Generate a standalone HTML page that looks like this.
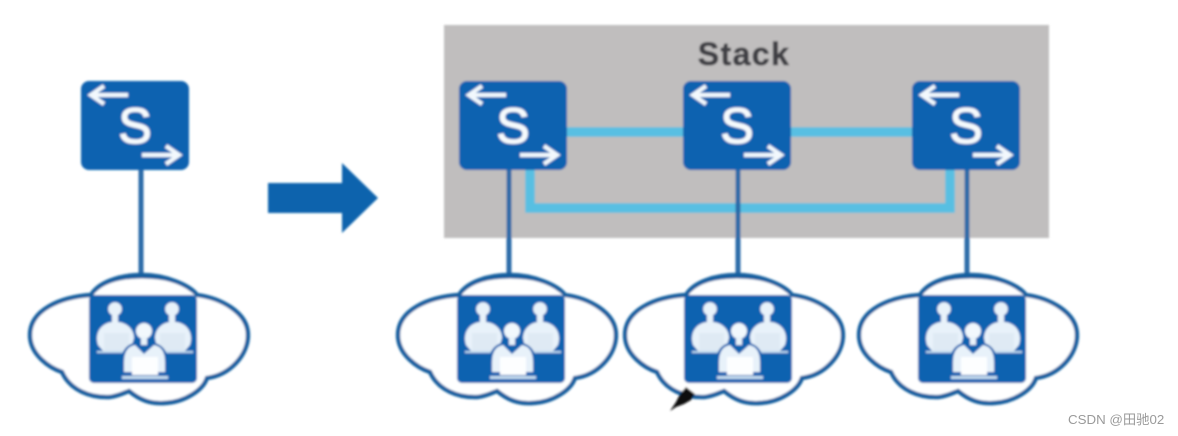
<!DOCTYPE html>
<html><head><meta charset="utf-8"><style>
html,body{margin:0;padding:0;background:#fff}
svg{display:block}
text{font-family:"Liberation Sans","Noto Sans CJK SC",sans-serif}
</style></head><body>
<svg width="1178" height="436" viewBox="0 0 1178 436" xmlns="http://www.w3.org/2000/svg">
<defs>
<filter id="b" x="-2%" y="-2%" width="104%" height="104%"><feGaussianBlur stdDeviation="1"/></filter>
<g id="sw">
<rect x="81" y="81" width="108" height="89" rx="8" fill="#0a62b0"/>
<g fill="none" stroke="#f2f8fd" stroke-width="4.2">
<path d="M128 95H94M104 86L91 95L104 104"/>
<path d="M142 155H176M166 146L179 155L166 164"/>
</g>
</g>
<g id="cl">
<path d="M91 295C60 297 30 310 30 335C30 355 50 368 62 372C70 390 90 398 110 397C118 396 124 393 129 391C140 400 150 404 165 403C185 402 203 390 207 378C230 375 248 355 248 335C248 312 220 298 197 295C190 285 165 275 142 275C118 275 98 283 91 295Z" fill="#fff" stroke="#165f9f" stroke-width="4.4"/>
<path d="M95 291C105 281 122 277 142 277C162 277 180 281 192 291" fill="none" stroke="#165f9f" stroke-width="3"/>
<rect x="89" y="295" width="108" height="88" rx="5" fill="#0a62b0"/>
<g fill="#e8f2fa">
<circle cx="115" cy="309" r="6.8"/>
<circle cx="172" cy="309" r="6.8"/>
<rect x="112" y="314" width="6" height="8"/>
<rect x="169" y="314" width="6" height="8"/>
<path d="M98 345C94 332 102 323 112 322L118 322C128 323 134 330 134 338L130 352H104Z"/>
<path d="M155 338C155 330 161 323 170 322L176 322C186 323 194 332 190 345L184 352H158Z"/>
</g>
<rect x="104" y="333" width="25" height="18" fill="#dfeaf4"/>
<rect x="160" y="333" width="25" height="18" fill="#dfeaf4"/>
<rect x="97" y="351" width="30" height="2" fill="#bcd8ee"/>
<rect x="158" y="351" width="35" height="2" fill="#bcd8ee"/>
<path d="M121 380V362Q121 342 144 341Q168 342 168 362V380Z" fill="#0a62b0"/>
<circle cx="144" cy="331" r="10" fill="#0a62b0"/>
<circle cx="144" cy="331" r="8" fill="#f2f8fd"/>
<rect x="141" y="337" width="6" height="8" fill="#e8f2fa"/>
<path d="M124 372V362Q124 347 135 345L144 354L154 345Q165 347 165 362V372Z" fill="#e8f2fa"/>
<rect x="132" y="357" width="26" height="18" fill="#fdfeff"/>
<rect x="122" y="376" width="46" height="3" fill="#c4dcef"/>
</g>
</defs>
<g filter="url(#b)">
<rect x="444" y="25" width="605" height="213" fill="#c0bebe"/>
<text x="744" y="65" font-size="32" font-weight="bold" letter-spacing="1.4" text-anchor="middle" fill="#3f3f44" stroke="#3f3f44" stroke-width="0.6">Stack</text>
<g fill="none" stroke="#58bfe2" stroke-width="9.5">
<path d="M565 132H685M790 132H914"/>
<path d="M530 168V208H950V168"/>
</g>
<g stroke="#2a6aa8" stroke-width="5">
<path d="M141 168V276M509 168V276M738 168V276M967 168V276"/>
</g>
<path d="M268 183H342V163L378 198L342 233V213H268Z" fill="#0c63ad"/>
<use href="#cl"/>
<use href="#cl" x="368"/>
<use href="#cl" x="595"/>
<use href="#cl" x="829"/>
<use href="#sw"/>
<use href="#sw" x="378"/>
<use href="#sw" x="602"/>
<use href="#sw" x="831"/>
<g font-size="50" fill="#f6fafd" text-anchor="middle" stroke="#f6fafd" stroke-width="1.1">
<text x="135" y="143">S</text>
<text x="513" y="143">S</text>
<text x="737" y="143">S</text>
<text x="966" y="143">S</text>
</g>
<path d="M670 411L676 402L680 394L686 387L695 394L691 400L684 404L676 407Z" fill="#0c0c0c"/>
</g>
<text x="1068" y="424" font-size="13.3" fill="#9a9a9a">CSDN @田驰02</text>
</svg>
</body></html>
